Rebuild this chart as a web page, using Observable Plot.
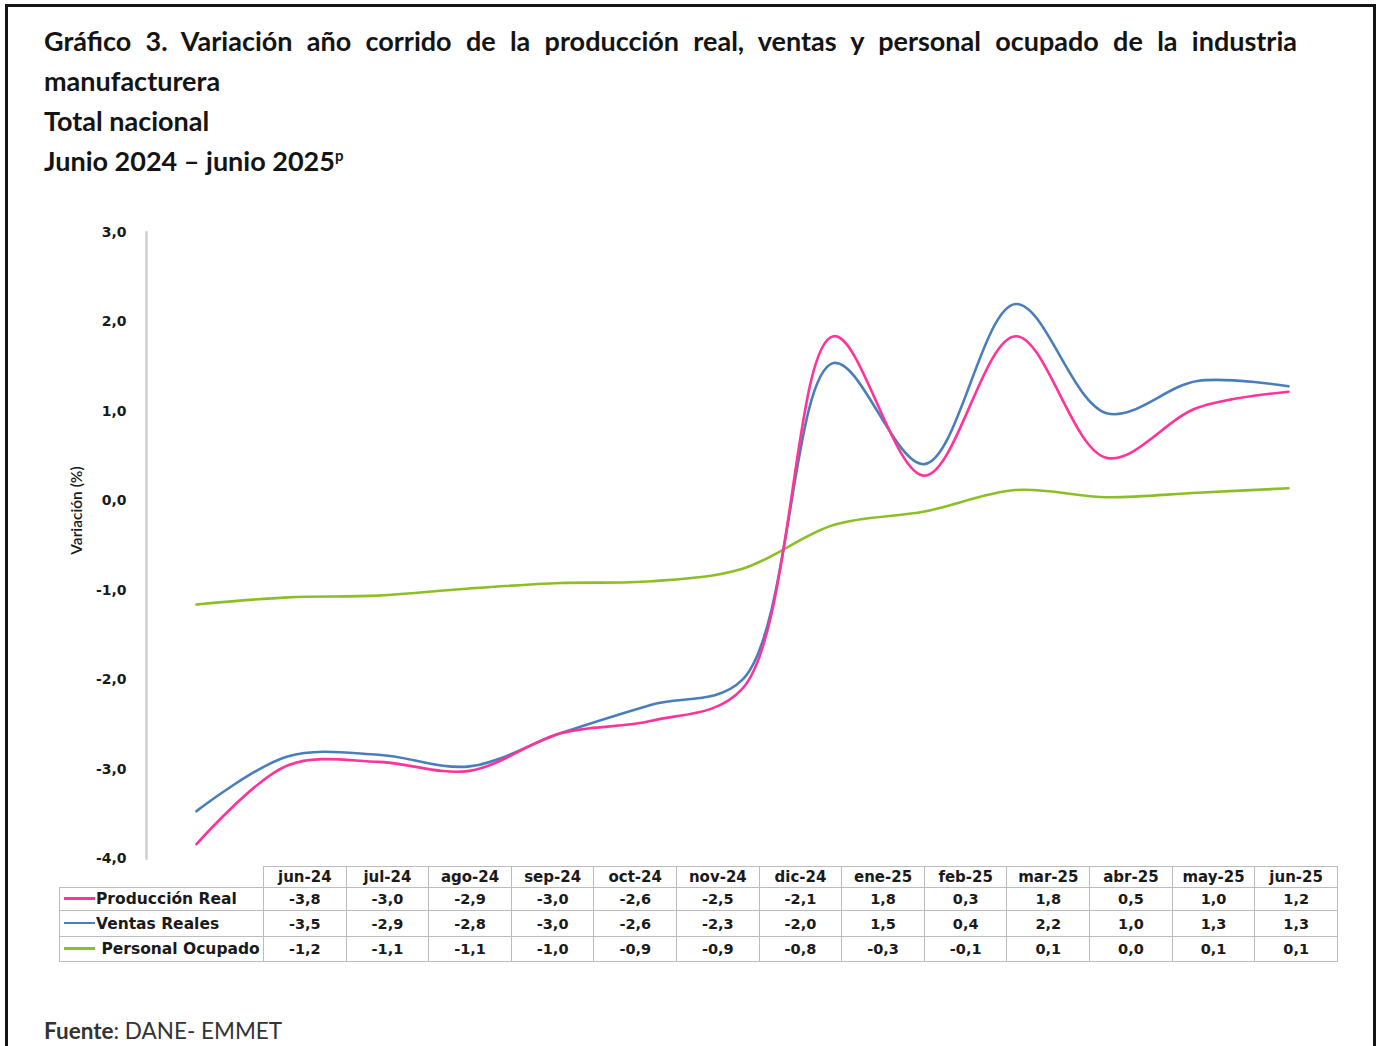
<!DOCTYPE html>
<html>
<head>
<meta charset="utf-8">
<script src="https://cdn.jsdelivr.net/npm/d3@7"></script>
<script src="https://cdn.jsdelivr.net/npm/@observablehq/plot@0.6"></script>
<style>
  html, body { margin: 0; padding: 0; background: #fff; }
  #page { position: relative; width: 1379px; height: 1046px; overflow: hidden; background: #fff; }
  #frame { position: absolute; left: 5px; top: 4px; width: 1371px; height: 1100px; border: 3px solid #151515; border-bottom: none; box-sizing: border-box; }
  #title { position: absolute; left: 44px; top: 21px; width: 1253px; font-family: Lato, sans-serif; font-weight: 700; font-size: 27px; line-height: 40px; color: #141414; }
  #title .l1 { text-align: justify; text-align-last: justify; }
  #title sup { font-size: 15px; vertical-align: 10px; line-height: 0; }
  #chart { position: absolute; left: 0; top: 220px; }
  #dt { position: absolute; left: 59px; top: 866px; border-collapse: collapse; table-layout: fixed; width: 1279px; font-family: "DejaVu Sans", sans-serif; font-weight: 700; font-size: 14.5px; color: #1a1a1a; }
  #dt td, #dt th { border: 1.5px solid #bcbcbc; padding: 0; text-align: center; white-space: nowrap; overflow: hidden; }
  #dt th { font-weight: 700; font-size: 15px; }
  #dt td.leg { text-align: left; font-size: 15.5px; }
  #dt .sw { display: inline-block; width: 31px; height: 2.5px; vertical-align: middle; margin-left: 4px; margin-right: 1px; position: relative; top: -1px; }
  #fuente { position: absolute; left: 44px; top: 1019px; font-family: Lato, sans-serif; font-size: 22.5px; color: #333; line-height: 1.05; }
</style>
</head>
<body>
<div id="page">
  <div id="frame"></div>
  <div id="title">
    <div class="l1">Gráfico 3. Variación año corrido de la producción real, ventas y personal ocupado de la industria</div>
    <div>manufacturera</div>
    <div>Total nacional</div>
    <div>Junio 2024 – junio 2025<sup>p</sup></div>
  </div>
  <div id="chart"></div>
  <table id="dt"></table>
  <div id="fuente"><b>Fuente</b>: DANE- EMMET</div>
</div>
<script>
// ---- Data (table shows them rounded to one decimal) ----
const meses = ["jun-24","jul-24","ago-24","sep-24","oct-24","nov-24","dic-24","ene-25","feb-25","mar-25","abr-25","may-25","jun-25"];
const produccionReal  = [-3.84,-2.96,-2.92,-3.02,-2.6,-2.46,-2.1,1.84,0.28,1.84,0.48,1.04,1.22];
const ventasReales    = [-3.47,-2.86,-2.84,-2.97,-2.6,-2.28,-2.0,1.54,0.41,2.2,0.98,1.34,1.28];
const personalOcupado = [-1.16,-1.08,-1.06,-0.98,-0.92,-0.9,-0.76,-0.27,-0.12,0.12,0.04,0.09,0.14];
const serieNombres = ["Producción Real","Ventas Reales","Personal Ocupado"];
const serieColores = ["#FF3399","#4A7EBB","#8CBF26"];
const yTicks = [-4,-3,-2,-1,0,1,2,3];
const yLabel = "Variación (%)";

const fmt = v => (Math.round(v * 10) / 10).toFixed(1).replace(".", ",").replace(/^-0,0$/, "0,0");
const seriesValores = [produccionReal, ventasReales, personalOcupado];

// long table for Plot (draw order: green, blue, pink)
const rows = [];
[2,1,0].forEach(s => seriesValores[s].forEach((v,i) => rows.push({mes: meses[i], valor: v, serie: serieNombres[s]})));

const chart = Plot.plot({
  width: 1379,
  height: 646,
  marginTop: 12,
  marginBottom: 8,
  marginLeft: 146,
  marginRight: 40,
  style: {fontFamily: "DejaVu Sans, sans-serif", background: "transparent"},
  x: {type: "point", domain: meses, range: [191, 1292], padding: 0, axis: null},
  y: {domain: [-4, 3], axis: null},
  color: {domain: serieNombres, range: serieColores},
  marks: [
    Plot.frame({anchor: "left", stroke: "#cfcfcf", strokeWidth: 2.5}),
    Plot.axisY({ticks: yTicks, tickSize: 0, tickPadding: 20, tickFormat: fmt, fontSize: 14, fontWeight: "bold", fill: "#1a1a1a", label: null}),
    Plot.text([yLabel], {frameAnchor: "left", textAnchor: "middle", rotate: -90, dx: -69, dy: -35, fontSize: 15.5, fontWeight: 600, fontFamily: "Lato, sans-serif", fill: "#1a1a1a"}),
    Plot.line(rows, {x: "mes", y: "valor", z: "serie", stroke: "serie", curve: "catmull-rom", strokeWidth: 2.6})
  ]
});
document.getElementById("chart").appendChild(chart);

// ---- Data table ----
const table = document.getElementById("dt");
let html = '<colgroup><col style="width:204px">' + meses.map(() => '<col>').join('') + '</colgroup>';
html += '<tr style="height:21px"><th style="border-top:none;border-left:none"></th>' + meses.map(m => `<th>${m}</th>`).join('') + '</tr>';
const rowH = [23, 26, 25];
serieNombres.forEach((n, s) => {
  const lead = s === 2 ? '&nbsp;' : '';
  html += `<tr style="height:${rowH[s]}px"><td class="leg"><span class="sw" style="background:${serieColores[s]}"></span>${lead}${n}</td>` +
    seriesValores[s].map(v => `<td>${fmt(v)}</td>`).join('') + '</tr>';
});
table.innerHTML = html;
</script>
</body>
</html>
